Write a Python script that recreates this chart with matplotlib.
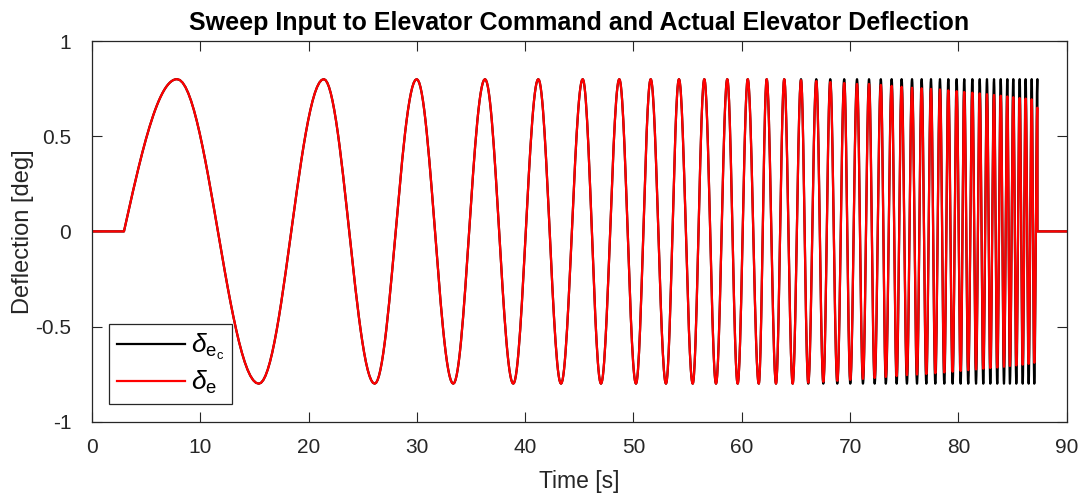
import numpy as np
import matplotlib.pyplot as plt

plt.rcParams['font.family'] = ['Liberation Sans', 'DejaVu Sans']
plt.rcParams['mathtext.fontset'] = 'custom'
plt.rcParams['mathtext.rm'] = 'Liberation Sans'
plt.rcParams['mathtext.it'] = 'Liberation Sans:italic'

# sweep starts / stops (s)
t_start = 2.95
t_stop = 87.3
t_end = 90.0

# times of the maxima / minima of the sweep (s)
ext_times = [
    7.85, 15.40, 21.40, 26.10, 29.98, 33.36, 36.29, 38.90, 41.21, 43.31,
    45.31, 47.00, 48.69, 50.23, 51.59, 53.00, 54.20, 55.47, 56.54, 57.62,
    58.66, 59.62, 60.55, 61.57, 62.30, 63.16, 63.92, 64.70, 65.47, 66.14,
    66.88, 67.53, 68.17, 68.82, 69.46, 70.02, 70.64, 71.19, 71.75, 72.27,
    72.84, 73.30, 73.84, 74.30, 74.76, 75.25, 75.72, 76.18, 76.61, 77.04,
    77.47, 77.87, 78.30, 78.70, 79.07, 79.47, 79.84, 80.21, 80.54, 80.91,
    81.29, 81.63, 81.97, 82.30, 82.64, 82.95, 83.29, 83.59, 83.91, 84.21,
    84.52, 84.76, 85.07, 85.35, 85.66, 85.94, 86.21, 86.49, 86.77, 87.01,
    87.29,
]

# commanded deflection at those extrema (deg)
cmd_amplitude = 0.8
cmd_ext = [cmd_amplitude if i % 2 == 0 else -cmd_amplitude for i in range(len(ext_times))]

# actual elevator deflection at the extrema (deg)
act_ext = [
    0.8, -0.8, 0.8, -0.8, 0.8, -0.8, 0.8, -0.8, 0.8, -0.8,
    0.8, -0.8, 0.8, -0.8, 0.8, -0.8, 0.8, -0.8, 0.8, -0.8,
    0.8, -0.8, 0.8, -0.8, 0.8, -0.8, 0.8, -0.8, 0.795, -0.795,
    0.79, -0.79, 0.785, -0.785, 0.78, -0.78, 0.775, -0.775, 0.775, -0.77,
    0.77, -0.765, 0.765, -0.76, 0.76, -0.755, 0.755, -0.752, 0.752, -0.749,
    0.749, -0.745, 0.746, -0.741, 0.741, -0.737, 0.737, -0.733, 0.733, -0.729,
    0.729, -0.725, 0.725, -0.721, 0.721, -0.718, 0.717, -0.715, 0.713, -0.711,
    0.709, -0.707, 0.705, -0.704, 0.701, -0.70, 0.698, -0.696, 0.694, -0.69,
    0.65,
]


def sweep_curve(times, values, n=30):
    """Join the read extrema with half-cosine arcs, flat zero before / after."""
    s = np.linspace(0, 1, n)[1:]
    xs = [0.0, t_start]
    ys = [0.0, 0.0]
    # first quarter wave rises from zero
    xs += list(t_start + (times[0] - t_start) * s)
    ys += list(values[0] * np.sin(np.pi / 2 * s))
    for i in range(1, len(times)):
        ta, tb = times[i - 1], times[i]
        a, b = values[i - 1], values[i]
        xs += list(ta + (tb - ta) * s)
        ys += list(a + (b - a) * (1 - np.cos(np.pi * s)) / 2)
    xs += [t_stop, t_stop, t_end]
    ys += [ys[-1], 0.0, 0.0]
    return xs, ys


fig = plt.figure(figsize=(10.85, 4.95), dpi=100)
ax = fig.add_axes([0.0848, 0.148, 0.8983, 0.769])

gray = '#262626'
x_cmd, y_cmd = sweep_curve(ext_times, cmd_ext)
x_act, y_act = sweep_curve(ext_times, act_ext)
ax.plot(x_cmd, y_cmd, color='black', lw=1.6, label=r'$\delta_{\mathrm{e_c}}$')
ax.plot(x_act, y_act, color='#ff0000', lw=1.6, label=r'$\delta_{\mathrm{e}}$')

ax.set_xlim(0, 90)
ax.set_ylim(-1, 1)
ax.set_xticks(range(0, 91, 10))
ax.set_yticks([-1, -0.5, 0, 0.5, 1])
ax.set_yticklabels(['-1', '-0.5', '0', '0.5', '1'])
ax.tick_params(direction='in', length=7, width=0.8, colors=gray, labelsize=15,
               top=True, right=True)
ax.tick_params(axis='x', pad=12)
ax.tick_params(axis='y', pad=15)
for sp in ax.spines.values():
    sp.set_color(gray)
    sp.set_linewidth(0.9)

ax.set_title('Sweep Input to Elevator Command and Actual Elevator Deflection',
             fontsize=18, fontweight='bold', color='black', pad=8)
ax.set_xlabel('Time [s]', fontsize=16.5, color=gray)
ax.set_ylabel('Deflection [deg]', fontsize=17, color=gray)
ax.xaxis.set_label_coords(0.5, -0.127)
ax.yaxis.set_label_coords(-0.06, 0.5)

leg = ax.legend(loc='lower left', bbox_to_anchor=(0.0174, 0.0465), borderaxespad=0,
                fontsize=19, handlelength=2.6, fancybox=False, framealpha=1,
                edgecolor=gray, borderpad=0.3, labelspacing=0.25, handletextpad=0.2)
leg.get_frame().set_linewidth(0.9)

fig.savefig('out.png', dpi=100)
